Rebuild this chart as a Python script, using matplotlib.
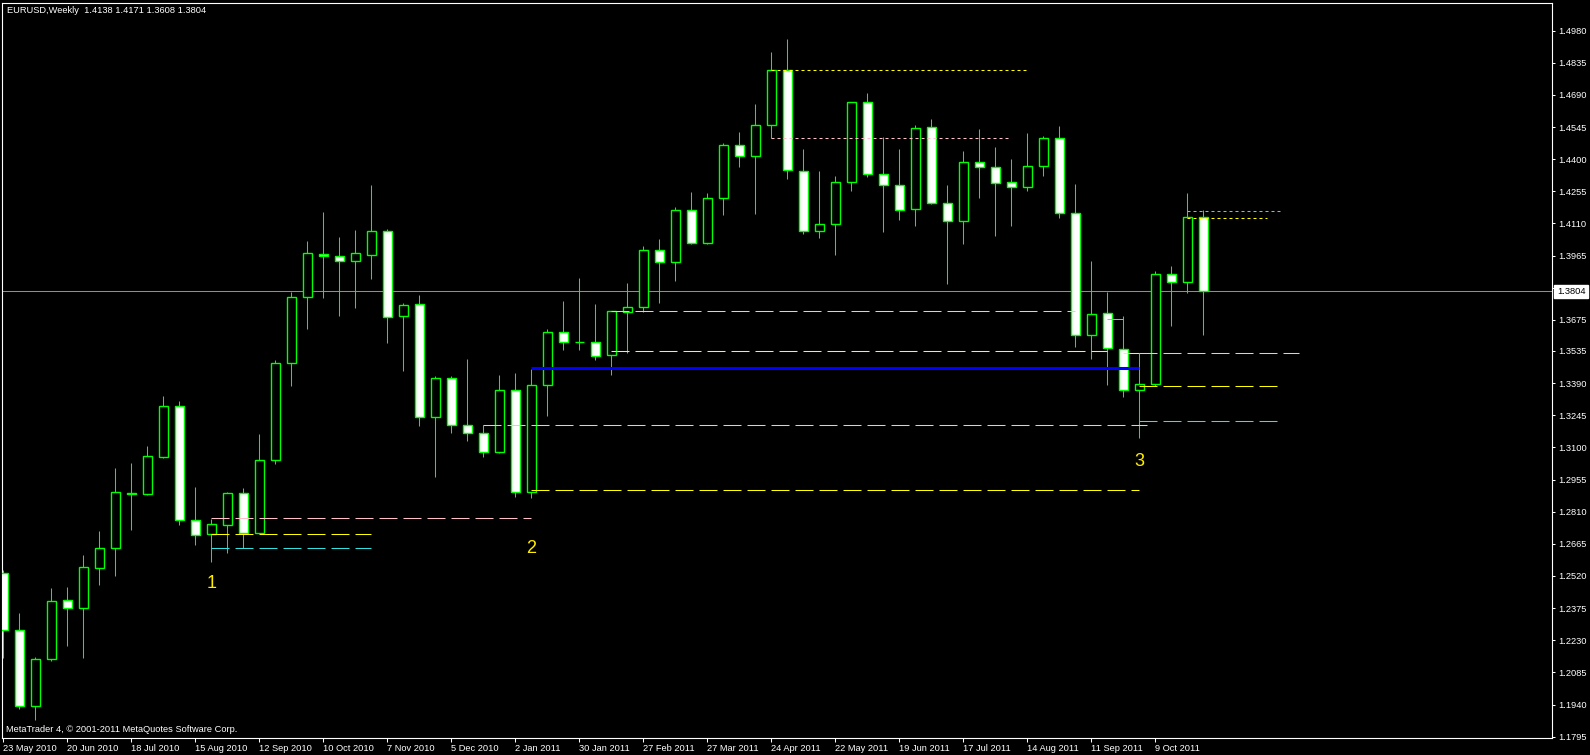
import matplotlib
matplotlib.use("Agg")
import matplotlib.pyplot as plt
import matplotlib.transforms as mtransforms
import numpy as np

# weekly EURUSD bars, 23 May 2010 .. 30 Oct 2011
opens = [1.2533, 1.2276, 1.1935, 1.2144, 1.2410, 1.2377, 1.2555, 1.2645, 1.2896, 1.2889,
         1.3058, 1.3285, 1.2771, 1.2711, 1.2751, 1.2893, 1.2715, 1.3042, 1.3479, 1.3777,
         1.3974, 1.3962, 1.3939, 1.3966, 1.4075, 1.3691, 1.3746, 1.3239, 1.3412, 1.3200,
         1.3164, 1.3078, 1.3358, 1.2898, 1.3380, 1.3619, 1.3574, 1.3574, 1.3515, 1.3709,
         1.3735, 1.3989, 1.3935, 1.4170, 1.4023, 1.4224, 1.4463, 1.4413, 1.4553, 1.4801,
         1.4345, 1.4075, 1.4106, 1.4296, 1.4657, 1.4332, 1.4282, 1.4174, 1.4544, 1.4201,
         1.4120, 1.4386, 1.4363, 1.4296, 1.4273, 1.4368, 1.4494, 1.4156, 1.3606, 1.3705,
         1.3543, 1.3358, 1.3385, 1.3881, 1.3845, 1.4138]
highs = [1.2547, 1.2352, 1.2153, 1.2465, 1.2469, 1.2615, 1.2723, 1.3006, 1.3028, 1.3106,
         1.3332, 1.3308, 1.2921, 1.2777, 1.2898, 1.2917, 1.3160, 1.3493, 1.3802, 1.4031,
         1.4162, 1.4049, 1.4081, 1.4284, 1.4084, 1.3750, 1.3787, 1.3422, 1.3422, 1.3499,
         1.3200, 1.3427, 1.3434, 1.3452, 1.3633, 1.3760, 1.3864, 1.3747, 1.3714, 1.3842,
         1.4009, 1.4040, 1.4184, 1.4252, 1.4248, 1.4473, 1.4523, 1.4649, 1.4884, 1.4942,
         1.4446, 1.4347, 1.4324, 1.4660, 1.4699, 1.4500, 1.4446, 1.4553, 1.4581, 1.4284,
         1.4437, 1.4536, 1.4455, 1.4401, 1.4518, 1.4505, 1.4550, 1.4288, 1.3941, 1.3802,
         1.3693, 1.3525, 1.3894, 1.3918, 1.4248, 1.4171]
lows = [1.2150, 1.1920, 1.1870, 1.2138, 1.2206, 1.2151, 1.2481, 1.2521, 1.2729, 1.2885,
        1.3054, 1.2750, 1.2660, 1.2584, 1.2625, 1.2645, 1.2712, 1.3026, 1.3378, 1.3635,
        1.3775, 1.3694, 1.3730, 1.3861, 1.3572, 1.3446, 1.3198, 1.2968, 1.3164, 1.3130,
        1.3055, 1.3075, 1.2877, 1.2870, 1.3243, 1.3541, 1.3541, 1.3496, 1.3428, 1.3525,
        1.3709, 1.3753, 1.3852, 1.4019, 1.4019, 1.4150, 1.4366, 1.4154, 1.4494, 1.4312,
        1.4064, 1.4046, 1.3969, 1.4258, 1.4321, 1.4073, 1.4127, 1.4100, 1.4197, 1.3836,
        1.4016, 1.4226, 1.4055, 1.4100, 1.4258, 1.4326, 1.4136, 1.3554, 1.3500, 1.3383,
        1.3329, 1.3144, 1.3377, 1.3649, 1.3798, 1.3608]
closes = [1.2276, 1.1935, 1.2144, 1.2406, 1.2377, 1.2559, 1.2645, 1.2898, 1.2889, 1.3060,
          1.3285, 1.2771, 1.2706, 1.2753, 1.2893, 1.2715, 1.3042, 1.3479, 1.3777, 1.3975,
          1.3962, 1.3939, 1.3975, 1.4075, 1.3687, 1.3741, 1.3236, 1.3412, 1.3200, 1.3164,
          1.3078, 1.3358, 1.2898, 1.3380, 1.3619, 1.3574, 1.3575, 1.3511, 1.3714, 1.3732,
          1.3989, 1.3935, 1.4170, 1.4023, 1.4224, 1.4463, 1.4413, 1.4553, 1.4801, 1.4350,
          1.4075, 1.4106, 1.4296, 1.4657, 1.4332, 1.4282, 1.4170, 1.4539, 1.4201, 1.4120,
          1.4386, 1.4363, 1.4291, 1.4273, 1.4368, 1.4494, 1.4156, 1.3606, 1.3700, 1.3547,
          1.3358, 1.3385, 1.3881, 1.3845, 1.4138, 1.3804]

date_labels = ["23 May 2010", "20 Jun 2010", "18 Jul 2010", "15 Aug 2010", "12 Sep 2010",
               "10 Oct 2010", "7 Nov 2010", "5 Dec 2010", "2 Jan 2011", "30 Jan 2011",
               "27 Feb 2011", "27 Mar 2011", "24 Apr 2011", "22 May 2011", "19 Jun 2011",
               "17 Jul 2011", "14 Aug 2011", "11 Sep 2011", "9 Oct 2011"]
price_labels = ["1.4980", "1.4835", "1.4690", "1.4545", "1.4400", "1.4255", "1.4110",
                "1.3965", "1.3820", "1.3675", "1.3535", "1.3390", "1.3245", "1.3100",
                "1.2955", "1.2810", "1.2665", "1.2520", "1.2375", "1.2230", "1.2085",
                "1.1940", "1.1795"]

# drawn levels: price, first bar, last bar
level_prices = [1.2780, 1.2709, 1.2645, 1.3200, 1.2907, 1.3457, 1.3714, 1.3533, 1.4803,
                1.4497, 1.4165, 1.4134, 1.3678, 1.3525, 1.3525, 1.3376, 1.3218]
level_start = [13, 13, 13, 30, 33, 33, 38, 38, 48, 48, 74, 74, 69, 70, 71, 71, 71]
level_end = [33, 23, 23, 71.5, 71, 71, 67, 69, 63.9, 62.8, 79.8, 79.0, 70, 71, 81, 79.6, 79.6]
level_kind = ["pink", "yellow", "cyan", "pink", "yellow", "blue", "pink", "yellow", "ydot",
              "pdot", "cdot", "ydot", "cyan", "yellow", "pink", "yellow", "cyan"]

wave_labels = ["1", "2", "3"]
wave_bars = [13, 33, 71]
wave_prices = [1.2484, 1.2645, 1.3036]

W, H = 1590, 755
plt.rcParams["font.family"] = ["Liberation Sans", "DejaVu Sans"]
plt.rcParams["lines.scale_dashes"] = False

fig = plt.figure(figsize=(W / 100, H / 100), dpi=100, facecolor="black")
ax = fig.add_axes([2 / W, (H - 738.3) / H, 1550 / W, (738.3 - 2.7) / H])
ax.set_facecolor("black")
ax.set_xlim(-0.08, 96.79)
ax.set_ylim(1.17879, 1.51059)

for sp in ax.spines.values():
    sp.set_color("white")
    sp.set_linewidth(0.8)

# price (bid) line
ax.axhline(closes[-1], color="#8a8f96", lw=0.75, zorder=1)

# candles
o = np.array(opens)
c = np.array(closes)
x = np.arange(len(o))
up = c >= o
ax.vlines(x, lows, highs, color="#00ff00", lw=0.75, zorder=2)
ax.bar(x, np.maximum(np.abs(c - o), 0.00005), bottom=np.minimum(o, c), width=0.56,
       color=np.where(up, "black", "white"), edgecolor="#00ff00", linewidth=1.0, zorder=3)

# levels
styles = {
    "pink": dict(color="#ffc0cb", lw=0.75, dashes=(12.96, 4.32)),
    "yellow": dict(color="#ffff00", lw=0.75, dashes=(12.96, 4.32)),
    "cyan": dict(color="#33e0e0", lw=0.75, dashes=(12.96, 4.32)),
    "blue": dict(color="#0000ff", lw=2.2),
    "ydot": dict(color="#ffff00", lw=0.75, dashes=(2.16, 2.16)),
    "pdot": dict(color="#ffc0cb", lw=0.75, dashes=(2.16, 2.16)),
    "cdot": dict(color="#33e0e0", lw=0.75, dashes=(2.16, 2.16)),
}
for lvl, s, e, k in zip(level_prices, level_start, level_end, level_kind):
    ax.plot([s, e], [lvl, lvl], zorder=4, solid_capstyle="butt", dash_capstyle="butt", **styles[k])

for t, b, p in zip(wave_labels, wave_bars, wave_prices):
    ax.text(b, p, t, color="#ffee00", fontsize=13, ha="center", va="center", zorder=6)

# axes
ax.yaxis.tick_right()
ax.set_yticks([float(v) for v in price_labels])
ax.set_yticklabels(price_labels)
ax.set_xticks(np.arange(0, 4 * len(date_labels), 4))
ax.set_xticklabels(date_labels)
for lab in ax.get_xticklabels():
    lab.set_ha("left")
ax.tick_params(axis="y", colors="white", labelsize=6.7, length=2.2, width=0.75, pad=2.6)
ax.tick_params(axis="x", colors="white", labelsize=6.7, length=3.0, width=0.75, pad=1.2)

# current price tag on the scale
tr = mtransforms.blended_transform_factory(ax.transAxes, ax.transData)
ax.text(1.0, closes[-1], "1.3804", transform=tr, ha="left", va="center", fontsize=6.7,
        color="black", zorder=10, clip_on=False,
        bbox=dict(boxstyle="square,pad=0.25", fc="white", ec="white"))
ax.texts[-1].set_position((1.0 + 4.8 / 1550, closes[-1]))

fig.text(7.3 / W, 1 - 10.5 / H,
         f"EURUSD,Weekly  {opens[-1]:.4f} {highs[-1]:.4f} {lows[-1]:.4f} {closes[-1]:.4f}",
         color="white", fontsize=6.7, ha="left", va="center")
fig.text(6.5 / W, 1 - 730 / H, "MetaTrader 4, \u00a9 2001-2011 MetaQuotes Software Corp.",
         color="white", fontsize=6.7, ha="left", va="center")

fig.savefig("out.png", dpi=100, facecolor="black")
